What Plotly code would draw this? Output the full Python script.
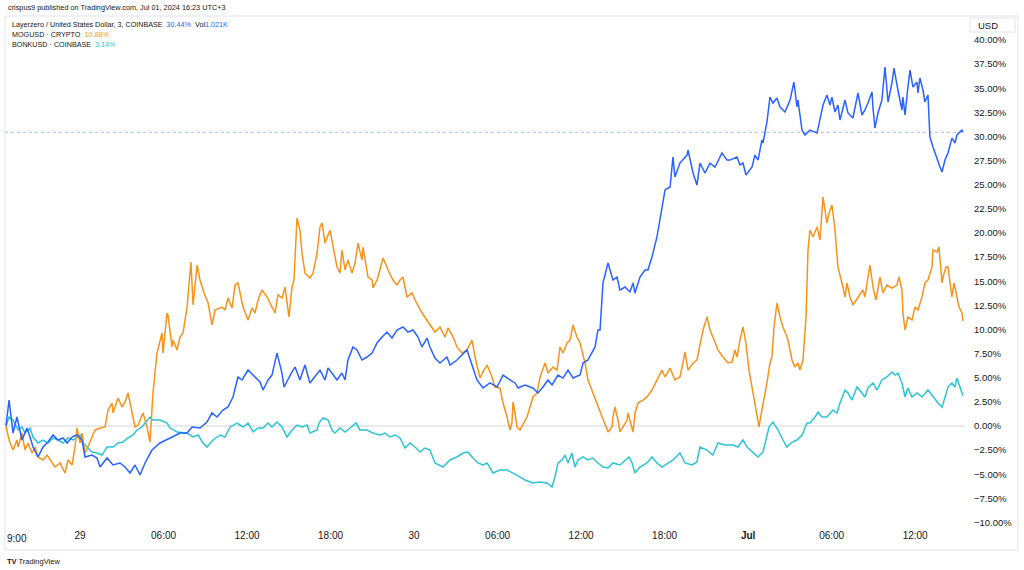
import pandas as pd
import plotly.graph_objects as go

# ---------------- data ----------------
# hours are offsets from 2024-06-29 00:00 (UTC+3); values are % change
lz_hours = [-5.32, -5.10, -4.81, -4.53, -4.17, -3.81, -3.59, -3.38, -3.02, -2.66, -2.30, -1.94, -1.58, -1.22, -0.93,
            -0.57, -0.22, 0.14, 0.36, 0.86, 1.22, 1.44, 1.94, 2.37, 2.87, 3.23, 3.59, 3.95, 4.31, 4.67, 5.17, 5.75,
            6.47, 7.18, 7.69, 8.05, 8.62, 9.12, 9.48, 9.84, 10.27, 10.63, 10.99, 11.35, 11.64, 12.07, 12.57, 12.93,
            13.15, 13.51, 13.79, 14.15, 14.51, 14.66, 15.23, 15.45, 15.80, 16.16, 16.52, 17.24, 17.60, 17.82, 18.46,
            18.82, 19.04, 19.25, 19.61, 19.90, 20.26, 20.62, 20.98, 21.34, 21.70, 22.05, 22.41, 22.77, 23.20, 23.56,
            23.92, 24.28, 24.57, 24.93, 25.14, 25.50, 25.86, 26.36, 26.58, 27.08, 27.80, 28.23, 28.52, 28.95, 29.45,
            29.96, 30.39, 30.89, 31.25, 31.47, 31.97, 32.54, 32.90, 33.26, 33.62, 33.91, 34.34, 34.70, 35.06, 35.42,
            35.92, 36.14, 36.49, 37.00, 37.21, 37.36, 37.57, 37.93, 38.29, 38.58, 38.79, 39.15, 39.51, 39.73, 39.87,
            40.23, 40.59, 40.80, 41.09, 41.45, 41.67, 42.03, 42.39, 42.60, 42.74, 43.10, 43.61, 43.68, 44.04, 44.32,
            44.54, 44.90, 45.26, 45.62, 45.98, 46.12, 46.48, 46.70, 47.20, 47.41, 47.63, 47.84, 48.28, 48.49, 48.71,
            48.99, 49.07, 49.35, 49.57, 49.78, 50.07, 50.29, 50.65, 51.01, 51.29, 51.51, 51.58, 51.87, 52.08, 52.44,
            52.95, 53.16, 53.38, 53.66, 53.88, 54.02, 54.24, 54.45, 54.60, 54.96, 55.17, 55.53, 55.82, 55.89, 56.18,
            56.39, 56.61, 56.90, 56.97, 57.11, 57.33, 57.61, 57.83, 58.05, 58.33, 58.48, 58.76, 59.05, 59.12, 59.27,
            59.48, 59.63, 59.84, 60.13, 60.20, 60.34, 60.56, 60.70, 60.92, 61.06, 61.28, 61.57, 61.78, 61.93, 62.14,
            62.36, 62.64, 62.86, 63.00, 63.36, 63.43]
lz_pct = [0.00, 2.69, -0.73, 0.93, -1.45, -0.21, -1.14, -2.18, -3.21, -2.18, -1.66, -0.93, -1.45, -1.24, -1.76,
          -1.14, -0.93, -1.45, -3.21, -3.01, -3.32, -4.25, -3.32, -4.04, -3.83, -4.25, -4.87, -4.04, -5.08, -3.83,
          -2.49, -1.76, -1.24, -0.73, -0.73, -0.10, -0.21, 0.41, 1.35, 0.93, 1.66, 1.97, 3.01, 5.08, 4.77, 5.80,
          5.08, 4.56, 3.73, 4.77, 5.28, 7.56, 5.49, 4.04, 5.60, 6.11, 4.77, 6.32, 4.46, 5.80, 4.77, 6.01, 4.77,
          5.49, 4.77, 6.84, 8.19, 7.88, 6.84, 7.15, 7.56, 8.60, 9.22, 9.74, 9.12, 9.95, 10.26, 9.74, 9.95, 9.22,
          8.19, 9.12, 8.19, 7.05, 6.53, 7.15, 6.32, 6.84, 7.88, 6.11, 4.77, 3.94, 4.46, 4.04, 5.28, 4.77, 4.46,
          3.94, 4.25, 3.94, 3.42, 4.04, 4.77, 4.25, 5.28, 4.97, 5.80, 4.97, 5.28, 6.53, 6.84, 8.19, 9.95, 9.95,
          14.82, 16.89, 15.13, 15.44, 14.09, 14.40, 13.89, 14.82, 13.78, 15.44, 16.17, 16.17, 17.51, 19.59, 21.35,
          24.46, 24.77, 27.88, 25.80, 27.25, 28.08, 28.60, 26.22, 24.97, 27.25, 26.22, 27.25, 26.84, 27.88, 28.29,
          27.56, 27.56, 27.88, 27.05, 27.25, 26.01, 26.84, 28.08, 27.56, 29.64, 29.33, 31.50, 34.09, 33.47, 33.99,
          33.06, 32.54, 33.78, 35.65, 33.06, 33.78, 30.67, 30.16, 30.67, 30.36, 31.71, 33.26, 34.30, 33.26, 34.09,
          32.54, 33.26, 31.71, 33.78, 32.44, 31.92, 34.09, 34.51, 32.23, 32.75, 33.47, 34.61, 32.95, 30.88, 32.44,
          33.78, 37.20, 33.58, 35.54, 37.10, 34.82, 32.75, 34.09, 32.23, 35.13, 36.89, 35.13, 35.65, 34.51, 36.06,
          34.82, 33.58, 34.30, 29.95, 28.91, 27.56, 26.84, 26.32, 27.56, 28.29, 29.84, 29.33, 30.16, 30.67, 30.44]

mog_hours = [-5.32, -5.10, -4.81, -4.53, -4.45, -4.17, -3.95, -3.74, -3.45, -3.23, -3.02, -2.66, -2.37, -2.01, -1.80,
             -1.44, -1.22, -1.08, -0.86, -0.57, -0.36, -0.22, 0.00, 0.14, 0.36, 0.57, 0.86, 1.08, 1.44, 1.80, 2.01,
             2.30, 2.37, 2.73, 3.02, 3.23, 3.45, 3.74, 3.95, 4.17, 4.53, 4.81, 5.03, 5.24, 5.53, 5.89, 5.96, 6.25,
             6.32, 6.61, 6.68, 6.97, 7.18, 7.40, 7.69, 7.97, 8.12, 8.41, 8.62, 8.91, 9.20, 9.48, 9.70, 10.20, 10.42,
             10.63, 10.92, 11.14, 11.35, 11.71, 12.07, 12.36, 12.57, 12.79, 13.07, 13.43, 13.79, 14.01, 14.22, 14.51,
             14.73, 15.01, 15.23, 15.37, 15.59, 15.80, 15.95, 16.16, 16.52, 16.74, 17.03, 17.24, 17.39, 17.60, 17.96,
             18.18, 18.46, 18.68, 18.82, 19.04, 19.25, 19.54, 19.76, 19.97, 20.26, 20.33, 20.69, 20.98, 21.05, 21.34,
             21.55, 21.77, 22.13, 22.49, 22.77, 22.99, 23.20, 23.49, 23.85, 24.07, 24.57, 24.93, 25.29, 25.50, 25.86,
             26.22, 26.44, 26.80, 27.08, 27.44, 27.80, 28.16, 28.38, 28.74, 28.95, 29.24, 29.60, 29.81, 30.17, 30.39,
             30.68, 30.89, 31.03, 31.11, 31.25, 31.39, 31.61, 31.82, 32.11, 32.33, 32.54, 32.83, 33.05, 33.41, 33.62,
             33.98, 34.27, 34.48, 34.70, 34.99, 35.20, 35.42, 35.70, 35.92, 36.28, 36.49, 36.85, 37.14, 37.50, 37.72,
             37.93, 38.22, 38.29, 38.43, 38.65, 38.79, 39.01, 39.30, 39.37, 39.66, 39.73, 39.87, 40.09, 40.45, 40.73,
             41.09, 41.45, 41.81, 42.03, 42.39, 42.74, 43.10, 43.32, 43.46, 43.68, 44.04, 44.32, 44.54, 44.76, 45.04,
             45.26, 45.47, 45.83, 46.19, 46.55, 46.84, 47.05, 47.20, 47.41, 47.63, 47.84, 48.06, 48.35, 48.49, 48.63,
             48.78, 48.99, 49.14, 49.35, 49.57, 49.71, 49.86, 50.07, 50.29, 50.50, 50.79, 50.86, 51.15, 51.36, 51.58,
             51.72, 51.94, 52.16, 52.30, 52.44, 52.66, 52.95, 53.16, 53.38, 53.52, 53.66, 53.81, 54.02, 54.24, 54.45,
             54.74, 54.96, 55.10, 55.32, 55.53, 55.89, 56.25, 56.39, 56.54, 56.75, 56.97, 57.18, 57.47, 57.69, 57.97,
             58.33, 58.69, 58.84, 59.05, 59.12, 59.27, 59.48, 59.77, 59.99, 60.20, 60.49, 60.70, 60.92, 61.21, 61.28,
             61.57, 61.71, 61.93, 62.00, 62.21, 62.36, 62.64, 62.79, 63.00, 63.15, 63.36, 63.43]
mog_pct = [0.00, -1.45, -2.49, -1.45, -2.18, -0.73, -2.49, -1.76, -2.80, -2.18, -3.21, -3.52, -3.01, -3.73, -4.25,
           -3.83, -4.56, -4.87, -3.52, -4.04, -2.18, -0.21, -1.76, -0.73, -2.80, -2.18, -1.14, -0.41, -0.21, -0.10,
           1.66, 2.38, 1.35, 2.90, 1.97, 2.49, 3.42, 1.35, -0.10, 0.10, 1.35, -0.10, -1.66, 3.42, 7.56, 9.64, 7.56,
           11.71, 11.50, 8.19, 8.91, 7.88, 9.22, 9.64, 12.33, 16.99, 12.54, 16.68, 15.13, 13.78, 12.75, 10.47, 12.02,
           12.33, 12.02, 13.26, 12.23, 14.61, 14.82, 12.33, 10.98, 12.23, 11.71, 13.06, 14.09, 13.37, 12.33, 11.71,
           13.58, 13.26, 14.40, 11.30, 14.40, 15.13, 21.55, 20.31, 17.93, 15.85, 15.34, 15.85, 17.93, 20.62, 21.04,
           18.96, 20.31, 18.55, 16.48, 15.85, 18.24, 16.17, 17.20, 15.85, 16.89, 18.96, 17.20, 18.55, 15.44, 15.13,
           14.30, 15.13, 16.17, 17.41, 16.17, 15.13, 14.61, 15.13, 15.44, 13.37, 13.78, 13.06, 11.71, 10.98, 10.26,
           9.74, 10.26, 9.22, 10.16, 9.22, 8.19, 7.56, 7.88, 8.91, 7.15, 4.97, 5.60, 6.32, 5.08, 4.04, 3.94, 2.38,
           0.93, -0.41, 0.31, 2.49, 1.35, -0.10, -0.41, 0.10, 0.93, 1.97, 3.01, 3.42, 5.08, 6.53, 5.49, 6.11, 5.80,
           8.19, 7.56, 8.60, 8.91, 10.47, 9.22, 8.60, 6.53, 4.77, 3.42, 2.38, 0.93, 0.31, -0.62, -0.10, 0.93, 1.97,
           0.62, -0.62, -0.10, 0.62, 1.35, -0.41, -0.62, 1.35, 2.38, 2.69, 3.01, 3.73, 4.77, 5.80, 5.08, 6.01, 4.77,
           5.08, 6.53, 7.67, 5.80, 6.53, 6.84, 8.60, 9.95, 11.30, 9.95, 9.22, 7.88, 7.15, 6.53, 6.63, 7.88, 7.15,
           8.91, 10.26, 8.60, 5.80, 3.42, 2.38, 1.35, -0.10, 1.66, 2.69, 4.46, 6.53, 7.15, 10.26, 12.75, 11.30,
           10.26, 9.22, 8.91, 6.84, 6.11, 6.53, 5.80, 6.84, 11.30, 18.24, 20.31, 19.59, 20.62, 19.27, 23.73, 22.38,
           21.04, 22.07, 22.90, 20.31, 16.48, 14.82, 13.37, 14.82, 13.37, 12.54, 13.37, 14.09, 13.37, 14.82, 16.68,
           14.40, 13.06, 15.44, 13.78, 14.61, 14.30, 14.61, 15.44, 14.09, 11.71, 9.95, 11.30, 10.98, 12.33, 12.02,
           13.37, 14.82, 15.13, 16.48, 18.24, 18.03, 18.55, 14.82, 15.44, 16.48, 16.48, 13.37, 14.82, 13.37, 12.33,
           11.71, 10.88]

bonk_hours = [-5.32, -5.10, -4.81, -4.53, -4.45, -4.17, -3.95, -3.59, -3.38, -3.02, -2.66, -2.30, -1.94, -1.58,
              -1.22, -0.86, -0.50, 0.00, 0.22, 0.50, 0.86, 1.22, 1.58, 1.94, 2.37, 2.73, 3.09, 3.45, 3.81, 4.09,
              4.45, 4.67, 5.03, 5.24, 5.75, 6.25, 6.47, 6.97, 7.69, 8.12, 8.48, 8.84, 9.12, 9.55, 10.06, 10.42,
              10.78, 11.28, 11.71, 12.07, 12.43, 12.79, 13.15, 13.51, 13.79, 14.15, 14.51, 14.87, 15.23, 15.59,
              15.95, 16.31, 16.52, 17.03, 17.17, 17.46, 17.82, 18.10, 18.32, 18.68, 19.04, 19.40, 19.83, 20.11,
              20.62, 21.05, 21.55, 21.91, 22.27, 22.63, 22.99, 23.35, 23.71, 24.07, 24.43, 24.78, 25.14, 25.50,
              25.86, 26.08, 26.58, 27.08, 27.51, 27.87, 28.23, 28.59, 28.95, 29.24, 29.67, 30.17, 30.68, 31.11,
              31.61, 31.97, 32.54, 33.05, 33.55, 33.91, 34.12, 34.34, 34.63, 34.84, 35.06, 35.34, 35.56, 35.78,
              36.14, 36.49, 36.85, 37.21, 37.57, 37.93, 38.29, 38.79, 39.15, 39.44, 39.66, 39.87, 40.23, 40.73,
              41.09, 41.45, 41.81, 42.24, 42.60, 43.10, 43.46, 43.97, 44.32, 44.54, 45.04, 45.47, 45.83, 46.34,
              46.91, 47.27, 47.63, 47.92, 48.35, 48.71, 49.07, 49.35, 49.50, 49.78, 50.14, 50.50, 50.79, 51.15,
              51.51, 51.87, 52.23, 52.44, 52.80, 53.02, 53.30, 53.66, 54.09, 54.38, 54.60, 54.96, 55.17, 55.46,
              55.82, 56.18, 56.39, 56.61, 56.97, 57.26, 57.61, 57.97, 58.33, 58.55, 58.76, 59.05, 59.27, 59.48,
              59.77, 60.13, 60.49, 60.92, 61.28, 61.64, 61.93, 62.14, 62.36, 62.64, 62.86, 63.00, 63.22, 63.43]
bonk_pct = [0.00, 0.93, 0.62, -0.10, -0.41, -0.10, -0.73, -0.21, -1.14, -1.76, -1.45, -1.76, -1.24, -1.45, -1.76,
            -1.24, -1.45, -0.93, -1.76, -2.18, -2.69, -2.80, -3.01, -2.18, -2.18, -1.76, -1.66, -1.24, -0.93, -0.41,
            -0.10, 0.31, 0.93, 0.62, 0.62, 0.31, -0.21, -0.62, -0.73, -1.14, -0.93, -1.76, -2.18, -1.45, -0.93,
            -1.14, -0.10, 0.31, -0.10, 0.31, -0.62, -0.21, -0.21, 0.31, -0.10, 0.41, -0.10, -1.14, -0.41, 0.10,
            -0.10, 0.10, -0.73, -0.41, 0.31, 0.83, 0.62, -0.41, -0.73, -0.21, -0.62, -0.21, 0.31, -0.41, -0.41,
            -0.73, -0.93, -0.73, -1.14, -0.93, -1.24, -2.28, -1.76, -2.18, -2.69, -2.28, -2.49, -3.83, -4.04, -4.25,
            -3.52, -3.21, -2.80, -2.69, -3.32, -3.83, -4.04, -3.83, -4.87, -4.56, -4.56, -4.87, -5.28, -5.60, -5.91,
            -5.80, -5.91, -6.32, -5.28, -3.83, -3.52, -3.01, -3.83, -2.80, -4.25, -3.52, -3.21, -3.52, -3.32, -3.83,
            -4.25, -4.35, -3.83, -4.04, -3.52, -3.21, -3.83, -4.87, -4.25, -3.83, -3.21, -3.83, -4.25, -3.83, -3.52,
            -2.80, -3.83, -4.04, -3.73, -2.18, -2.49, -3.01, -1.76, -1.97, -1.97, -2.18, -1.45, -2.18, -2.80, -3.21,
            -2.69, -1.14, -0.10, 0.41, -0.41, -1.45, -2.18, -1.66, -1.45, -0.93, 0.31, 0.31, 0.93, 1.45, 0.93, 0.93,
            1.66, 1.35, 2.38, 3.73, 3.42, 2.69, 4.04, 3.42, 3.01, 3.94, 4.46, 3.73, 4.77, 5.08, 5.60, 5.28, 5.49,
            4.46, 3.01, 3.94, 3.01, 3.42, 3.01, 3.73, 3.01, 2.38, 1.97, 3.01, 4.04, 4.46, 4.04, 4.97, 4.04, 3.14]

x_tick_hours = [0, 6, 12, 18, 24, 30, 36, 42, 48, 54, 60]
x_tick_labels = ["29", "06:00", "12:00", "18:00", "30", "06:00", "12:00", "18:00", "<b>Jul</b>", "06:00", "12:00"]
y_tick_values = [-10, -7.5, -5, -2.5, 0, 2.5, 5, 7.5, 10, 12.5, 15, 17.5, 20, 22.5, 25, 27.5, 30, 32.5, 35, 37.5, 40]
y_tick_labels = ["\u221210.00%", "\u22127.50%", "\u22125.00%", "\u22122.50%", "0.00%", "2.50%", "5.00%", "7.50%",
                 "10.00%", "12.50%", "15.00%", "17.50%", "20.00%", "22.50%", "25.00%", "27.50%", "30.00%",
                 "32.50%", "35.00%", "37.50%", "40.00%"]
last_lz, last_mog, last_bonk = 30.44, 10.88, 3.14
x_range_hours = [-5.39, 63.58]
y_range = [-10.57, 42.49]

# ---------------- figure ----------------
base = pd.Timestamp("2024-06-29 00:00")


def to_time(hours):
    return [base + pd.Timedelta(hours=h) for h in hours]


BLUE, ORANGE, CYAN = "#2962FF", "#F7931A", "#2BC4D6"
FONT = "Liberation Sans, Arial, sans-serif"

fig = go.Figure()
fig.add_trace(go.Scatter(x=to_time(bonk_hours), y=bonk_pct, mode="lines",
                         line=dict(color=CYAN, width=1.5), hoverinfo="skip"))
fig.add_trace(go.Scatter(x=to_time(mog_hours), y=mog_pct, mode="lines",
                         line=dict(color=ORANGE, width=1.5), hoverinfo="skip"))
fig.add_trace(go.Scatter(x=to_time(lz_hours), y=lz_pct, mode="lines",
                         line=dict(color=BLUE, width=1.5), hoverinfo="skip"))

# zero line and last-value dotted line
fig.add_hline(y=0, line=dict(color="#D1D4DC", width=1), layer="below")
fig.add_hline(y=last_lz, line=dict(color="rgba(41,98,255,0.45)", width=1, dash="dot"), layer="below")

W, H = 1024, 570
L, R, T, B = 5, 59, 16, 42
pw, ph = W - L - R, H - T - B


def px(x):
    return (x - L) / pw


def py(y):
    return (H - B - y) / ph


fig.update_layout(
    width=W, height=H,
    margin=dict(l=L, r=R, t=T, b=B, autoexpand=False),
    paper_bgcolor="white", plot_bgcolor="white",
    showlegend=False,
    font=dict(family=FONT, color="#131722"),
    xaxis=dict(type="date", range=to_time(x_range_hours), showgrid=False, zeroline=False,
               tickvals=to_time(x_tick_hours), ticktext=x_tick_labels, ticks="",
               tickfont=dict(size=10, color="#131722"), showline=False, fixedrange=True),
    yaxis=dict(side="right", range=y_range, showgrid=False, zeroline=False,
               tickvals=y_tick_values, ticktext=y_tick_labels, ticks="", ticklabelstandoff=8,
               tickfont=dict(size=9.5, color="#131722"), showline=False, fixedrange=True),
)

# container border and USD box
fig.add_shape(type="rect", xref="paper", yref="paper", x0=px(5), x1=px(1018), y0=py(550), y1=py(16),
              line=dict(color="#E0E3EB", width=1), fillcolor="rgba(0,0,0,0)", layer="below")
fig.add_shape(type="rect", xref="paper", yref="paper", x0=px(970), x1=px(1015), y0=py(32), y1=py(18),
              line=dict(color="#E0E3EB", width=1), fillcolor="white")

ann = []
ann.append(dict(text="USD", x=px(976), y=py(25), xanchor="left", yanchor="middle", font=dict(size=9.5)))
ann.append(dict(text="crispus9 published on TradingView.com, Jul 01, 2024 16:23 UTC+3",
                x=px(6), y=py(7), xanchor="left", yanchor="middle", font=dict(size=7.3, color="#131722")))
ann.append(dict(text=("Layerzero / United States Dollar, 3, COINBASE  "
                      f"<span style='color:{BLUE}'>{last_lz:.2f}%</span>  Vol"
                      f"<span style='color:{BLUE}'>1.021K</span>"),
                x=px(10), y=py(24), xanchor="left", yanchor="middle", font=dict(size=7.2)))
ann.append(dict(text=f"MOGUSD · CRYPTO  <span style='color:{ORANGE}'>{last_mog:.2f}%</span>",
                x=px(10), y=py(34), xanchor="left", yanchor="middle", font=dict(size=7.2)))
ann.append(dict(text=f"BONKUSD · COINBASE  <span style='color:{CYAN}'>{last_bonk:.2f}%</span>",
                x=px(10), y=py(44), xanchor="left", yanchor="middle", font=dict(size=7.2)))
ann.append(dict(text="9:00", x=px(5), y=py(538), xanchor="left", yanchor="middle",
                font=dict(size=10, color="#131722")))
ann.append(dict(text="<b>TV</b> TradingView", x=px(5), y=py(561), xanchor="left", yanchor="middle",
                font=dict(size=7.5, color="#131722")))
for a in ann:
    a.update(xref="paper", yref="paper", showarrow=False)
fig.update_layout(annotations=ann)

fig.write_html("out.html", config={"displayModeBar": False},
               post_script="document.body.style.margin='0px';document.body.style.overflow='hidden';")
